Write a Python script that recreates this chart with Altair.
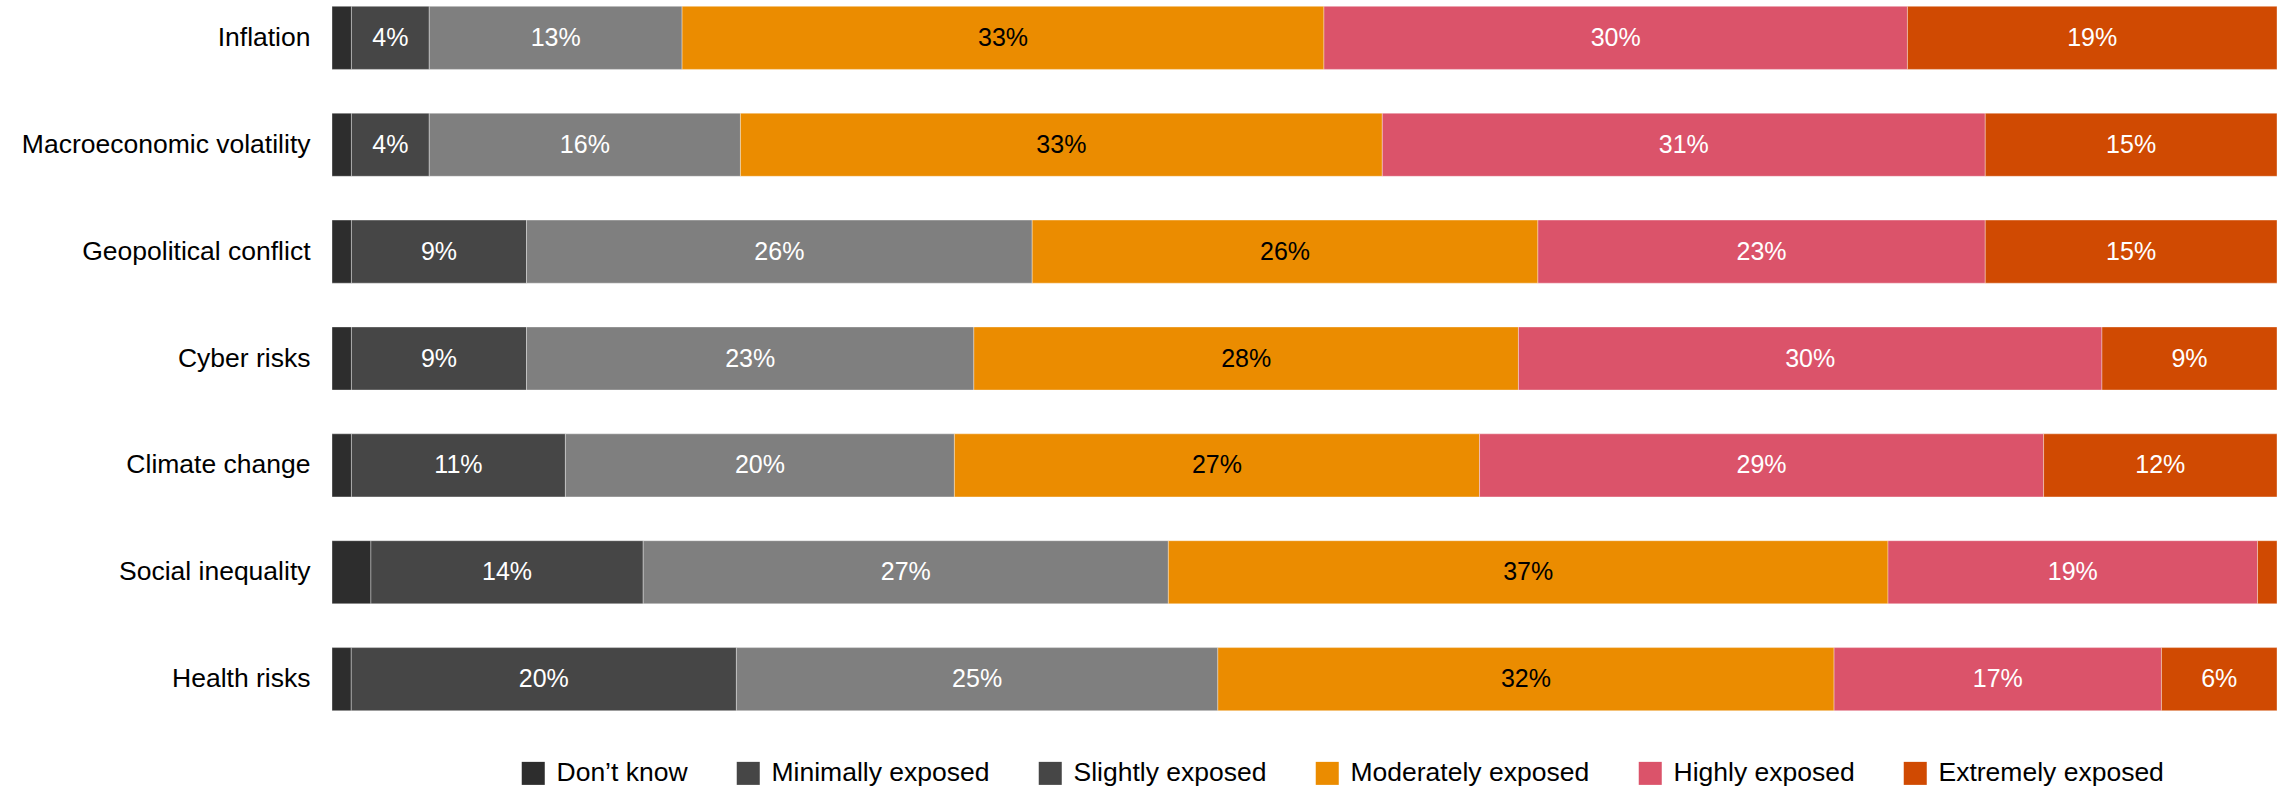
import altair as alt
import pandas as pd

# Exposure to each risk, share of respondents (%)
causes = [
    "Inflation",
    "Macroeconomic volatility",
    "Geopolitical conflict",
    "Cyber risks",
    "Climate change",
    "Social inequality",
    "Health risks",
]
levels = [
    "Don\u2019t know",
    "Minimally exposed",
    "Slightly exposed",
    "Moderately exposed",
    "Highly exposed",
    "Extremely exposed",
]
dont_know = [1, 1, 1, 1, 1, 2, 1]
minimally = [4, 4, 9, 9, 11, 14, 20]
slightly = [13, 16, 26, 23, 20, 27, 25]
moderately = [33, 33, 26, 28, 27, 37, 32]
highly = [30, 31, 23, 30, 29, 19, 17]
extremely = [19, 15, 15, 9, 12, 1, 6]

bar_colors = ["#2d2d2d", "#464646", "#7f7f7f", "#eb8c00", "#db536a", "#d04a02"]
legend_colors = ["#2d2d2d", "#464646", "#464646", "#eb8c00", "#db536a", "#d04a02"]
label_colors = ["#ffffff", "#ffffff", "#ffffff", "#000000", "#ffffff", "#ffffff"]

series = [dont_know, minimally, slightly, moderately, highly, extremely]
rows = []
for li, (lvl, vals) in enumerate(zip(levels, series)):
    for ci, cause in enumerate(causes):
        rows.append({
            "cause": cause,
            "level": lvl,
            "order": li,
            "value": vals[ci],
            "label": f"{vals[ci]}%",
            "tcolor": label_colors[li],
        })
df = pd.DataFrame(rows)

FONT = "Liberation Sans"

y_enc = alt.Y(
    "cause:N",
    sort=causes,
    title=None,
    scale=alt.Scale(paddingInner=0.41, paddingOuter=0.05),
    axis=alt.Axis(
        labelFontSize=26.5,
        labelFont=FONT,
        labelColor="#000000",
        labelLimit=500,
        ticks=False,
        domain=False,
        labelPadding=22,
        grid=False,
    ),
)

base = alt.Chart(df).transform_stack(
    stack="value",
    as_=["x0", "x1"],
    groupby=["cause"],
    sort=[alt.SortField("order", order="ascending")],
    offset="normalize",
).transform_calculate(mid="(datum.x0 + datum.x1) / 2")

x_scale = alt.Scale(domain=[0, 1], nice=False, zero=False)

bars = base.mark_bar(stroke="#ffffff", strokeWidth=1, strokeOpacity=0.35).encode(
    y=y_enc,
    x=alt.X("x0:Q", scale=x_scale, axis=None, title=None),
    x2="x1:Q",
    color=alt.Color(
        "level:N",
        scale=alt.Scale(domain=levels, range=bar_colors),
        legend=None,
    ),
)

labels = base.transform_filter(
    (alt.datum.value >= 3) & (alt.datum.order > 0)
).mark_text(font=FONT, fontSize=25, baseline="middle", align="center").encode(
    y=y_enc,
    x=alt.X("mid:Q", scale=x_scale, axis=None),
    text="label:N",
    color=alt.Color("tcolor:N", scale=None),
)

# Invisible squares that only carry the legend's colour scale
legend_df = pd.DataFrame({"level": levels, "zero": [0] * len(levels)})
legend_layer = alt.Chart(legend_df).mark_square(opacity=0, size=1).encode(
    x=alt.X("zero:Q", scale=x_scale, axis=None),
    color=alt.Color(
        "level:N",
        sort=levels,
        scale=alt.Scale(domain=levels, range=legend_colors),
        legend=alt.Legend(
            title=None,
            orient="none",
            direction="horizontal",
            legendX=188,
            legendY=759,
            symbolType="square",
            symbolSize=530,
            symbolOpacity=1,
            symbolStrokeWidth=0,
            labelFontSize=26.5,
            labelFont=FONT,
            labelColor="#000000",
            labelOffset=10,
            columnPadding=47,
            padding=0,
            labelLimit=400,
        ),
    ),
)

chart = (
    alt.layer(bars, labels, legend_layer)
    .resolve_scale(color="independent")
    .properties(
        width=1945,
        height=715,
        padding={"left": 21, "top": 1, "right": 12, "bottom": 0},
        view=alt.ViewBackground(stroke="transparent", strokeWidth=0),
    )
    .configure_view(stroke=None, strokeWidth=0)
    .configure(background="#ffffff")
)

chart.save("out.html", embed_options={"renderer": "svg", "actions": False})
